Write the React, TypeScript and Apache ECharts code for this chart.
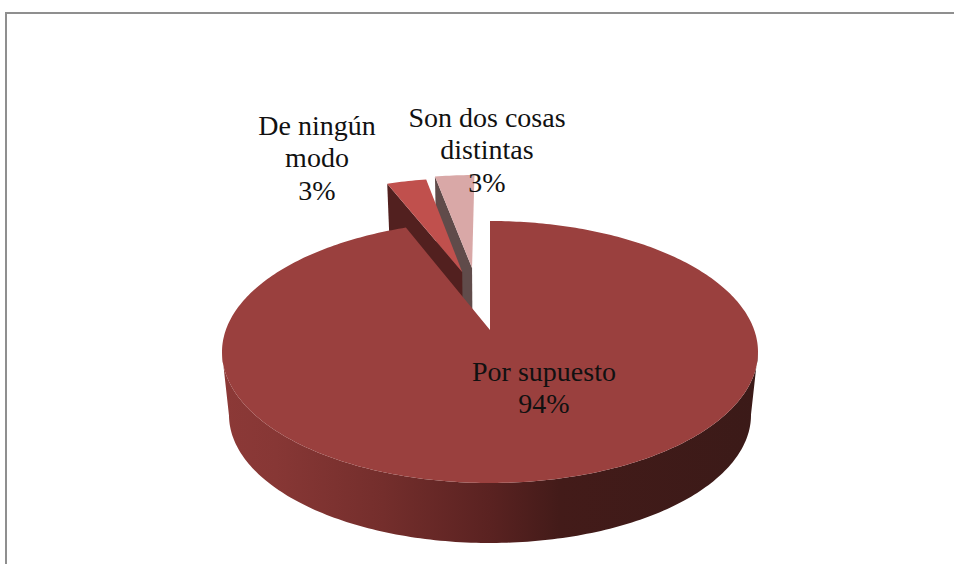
import React, { useEffect, useRef } from "react";
import * as echarts from "echarts";

const categories = ["Por supuesto", "De ningún modo", "Son dos cosas distintas"];
const values = [94, 3, 3];
const labelLines = [["Por supuesto"], ["De ningún", "modo"], ["Son dos cosas", "distintas"]];

const sliceColors = ["#9A403E", "#C0504D", "#D9A8A7"];
const cutColors = ["#5A2120", "#52201F", "#604B4A"];
// Perspective pie layout
const TOP = { cx: 490, cy: 352, rx: 268, ry: 131 };
const BOTTOM = { cx: 490, cy: 415, rx: 261, ry: 128 };
const PERSPECTIVE = 0.168;
const explode: [number, number][] = [[0, 0], [-0.114, 0.494], [-0.074, 0.53]];
const labelPos: [number, number][] = [[544, 371], [317, 125], [487, 117]];
const drawZ = [3, 2, 1];
const LINE = 32.5;

type E = typeof TOP;
function project(u: number, v: number, e: E): [number, number] {
  const k = PERSPECTIVE;
  const d = 1 + k * v;
  const a = (u * Math.sqrt(1 - k * k)) / d;
  const b = (v + k) / d;
  return [e.cx + e.rx * a, e.cy - e.ry * b];
}

const total = values.reduce((s, v) => s + v, 0);

function renderItem(params: any, api: any) {
  const i = params.dataIndex;
  let before = 0;
  for (let j = 0; j < i; j++) before += values[j];
  const value = api.value(0) as number;
  const t0 = (before / total) * Math.PI * 2;
  const t1 = ((before + value) / total) * Math.PI * 2;
  const [du, dv] = explode[i];
  const rim = (t: number): [number, number] => [Math.sin(t) + du, Math.cos(t) + dv];
  const n = Math.max(4, Math.round((t1 - t0) * 60));
  const arc: [number, number][] = [];
  for (let s = 0; s <= n; s++) arc.push(rim(t0 + ((t1 - t0) * s) / n));

  const z = drawZ[i];
  const children: any[] = [];

  // Cut face of the exploded slices, turned towards the viewer
  const cutEdge = i === 0 ? null : arc[0];
  if (cutEdge) {
    children.push({
      type: "polygon",
      z2: z,
      shape: {
        points: [
          project(cutEdge[0], cutEdge[1], TOP),
          project(du, dv, TOP),
          project(du, dv, BOTTOM),
          project(cutEdge[0], cutEdge[1], BOTTOM),
        ],
      },
      style: { fill: cutColors[i] },
    });
  }

  // Front wall
  const front = arc.filter(([u, v]) => (v + PERSPECTIVE) / (1 + PERSPECTIVE * v) <= 0.01);
  if (front.length > 1) {
    const pts = [
      ...front.map(([u, v]) => project(u, v, TOP)),
      ...front.slice().reverse().map(([u, v]) => project(u, v, BOTTOM)),
    ];
    children.push({
      type: "polygon",
      z2: z,
      shape: { points: pts },
      style: {
        fill: new echarts.graphic.LinearGradient(0, 0, 1, 0, [
          { offset: 0, color: "#8C3937" },
          { offset: 0.1, color: "#873735" },
          { offset: 0.3, color: "#742E2C" },
          { offset: 0.5, color: "#5A2221" },
          { offset: 0.63, color: "#431B19" },
          { offset: 1, color: "#3B1A18" },
        ]),
      },
    });
  }

  // Top face
  children.push({
    type: "polygon",
    z2: z,
    shape: {
      points: [project(du, dv, TOP), ...arc.map(([u, v]) => project(u, v, TOP))],
    },
    style: { fill: sliceColors[i] },
  });

  // Label
  const [lx, ly] = labelPos[i];
  const lines = [...labelLines[i], `${value}%`];
  lines.forEach((line, k) => {
    children.push({
      type: "text",
      z2: 10,
      style: {
        x: lx,
        y: ly + k * LINE,
        text: line,
        align: "center",
        verticalAlign: "middle",
        fill: "#111111",
        font: '28px "Liberation Serif"',
      },
    });
  });

  return { type: "group", children };
}

export default function App() {
  const ref = useRef<HTMLDivElement>(null);
  useEffect(() => {
    if (!ref.current) return;
    const chart = echarts.init(ref.current, undefined, { renderer: "svg" });
    chart.setOption({
      animation: false,
      backgroundColor: "#ffffff",
      graphic: [
        { type: "rect", shape: { x: 5, y: 12, width: 949, height: 2 }, style: { fill: "#8F8F8F" } },
        { type: "rect", shape: { x: 5, y: 12, width: 2, height: 552 }, style: { fill: "#8F8F8F" } },
      ],
      series: [
        {
          type: "custom",
          coordinateSystem: "none",
          clip: false,
          renderItem,
          data: values.map((v, i) => ({ value: [v], name: categories[i] })),
        },
      ],
    });
    return () => chart.dispose();
  }, []);
  return <div ref={ref} style={{ position: "absolute", left: 0, top: 0, width: 954, height: 564 }} />;
}
